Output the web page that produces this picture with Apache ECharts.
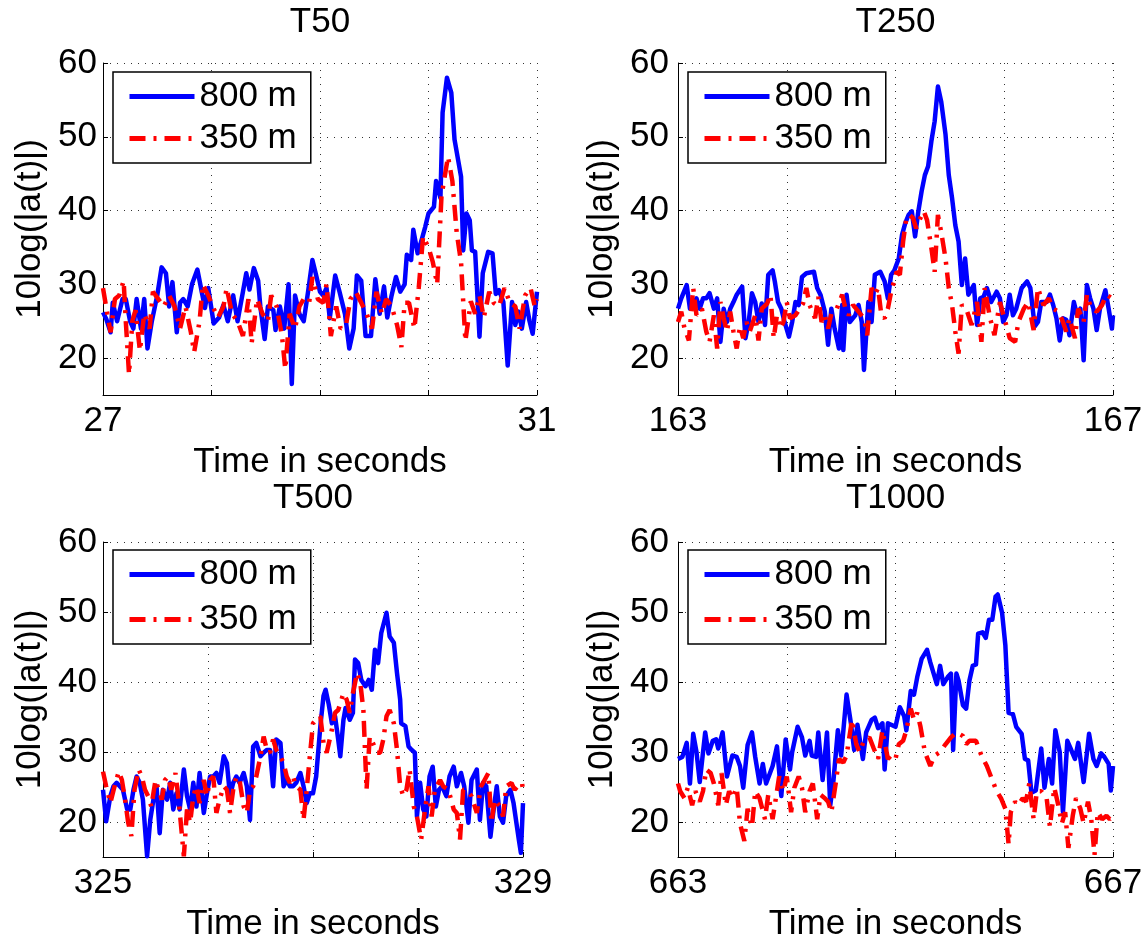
<!DOCTYPE html>
<html>
<head>
<meta charset="utf-8">
<script src="https://cdn.jsdelivr.net/npm/echarts@6/dist/echarts.min.js"></script>
<style>
html, body { margin: 0; padding: 0; background: #fff; }
#chart { width: 1147px; height: 943px; }
</style>
</head>
<body>
<div id="chart"></div>
<script>
// panel titles, start time of each 4 s window
const panelTitles = ['T50', 'T250', 'T500', 'T1000'];
const panelStarts = [27, 163, 325, 663];
const yTicks = [20, 30, 40, 50, 60];
const seriesNames = ['800 m', '350 m'];

// [seconds after window start, 10log(|a(t)|)]
const t50_800 = [[0.00,26.2],[0.03,25.3],[0.07,23.5],[0.09,27.5],[0.13,25],[0.18,28],[0.21,28],[0.25,25],[0.28,24],[0.31,28],[0.35,24],[0.38,28],[0.41,21.3],[0.45,25],[0.50,28.5],[0.54,32.3],[0.58,31.5],[0.61,27],[0.64,30.3],[0.68,23.5],[0.71,27.5],[0.74,28],[0.78,27],[0.82,30],[0.87,32],[0.91,29],[0.94,26.8],[0.97,29.5],[1.02,24.7],[1.07,25.5],[1.11,27.2],[1.15,25],[1.20,28.5],[1.24,25],[1.29,29],[1.32,31.5],[1.35,29.3],[1.39,32.2],[1.43,30.5],[1.45,27],[1.49,22.6],[1.52,27],[1.57,26.5],[1.59,23.8],[1.63,27],[1.67,24],[1.71,30],[1.74,16.5],[1.77,28.5],[1.81,26],[1.85,25],[1.89,29],[1.93,33.3],[1.96,31.5],[2.00,29],[2.03,28.5],[2.06,29.5],[2.09,25.4],[2.14,31.2],[2.18,29],[2.23,26],[2.27,21.3],[2.31,24],[2.34,31.2],[2.38,30.5],[2.42,23],[2.47,23],[2.51,30.7],[2.55,26],[2.59,29.7],[2.62,25.5],[2.66,28.5],[2.70,31],[2.74,29],[2.78,30],[2.80,34],[2.84,33.3],[2.86,37.4],[2.90,34.2],[2.94,36.2],[2.97,37.8],[3.00,39.6],[3.05,40.5],[3.07,44],[3.11,41.7],[3.13,53.3],[3.17,58],[3.21,56],[3.24,49.6],[3.30,44.6],[3.32,34.6],[3.35,39.6],[3.38,38.7],[3.40,34.6],[3.43,34.4],[3.47,22.9],[3.50,31.5],[3.55,34.4],[3.59,34.2],[3.62,28.7],[3.65,29.2],[3.69,27.6],[3.73,19],[3.77,27.6],[3.80,24.5],[3.83,26.3],[3.86,24],[3.90,27.6],[3.93,25.1],[3.96,23.3],[4.00,29]];
const t50_350 = [[0.00,29.5],[0.04,26],[0.07,23.5],[0.11,28],[0.15,28.5],[0.19,30.5],[0.21,25],[0.24,17.8],[0.27,25],[0.30,26.5],[0.34,21],[0.38,26],[0.43,24],[0.46,29],[0.51,28],[0.56,27],[0.61,28.5],[0.66,27],[0.71,24],[0.76,27],[0.81,23.5],[0.84,20.8],[0.89,25],[0.92,30],[0.97,28.5],[1.01,27],[1.06,25.5],[1.11,27],[1.14,29.5],[1.19,26],[1.24,25],[1.29,23],[1.34,28],[1.37,22],[1.42,28],[1.47,26],[1.52,25],[1.55,28.5],[1.60,27],[1.65,23],[1.68,18.5],[1.72,26],[1.77,24],[1.81,27],[1.85,28],[1.90,27.5],[1.93,31],[1.98,28],[2.03,27.5],[2.06,30],[2.10,23],[2.15,27],[2.19,24],[2.24,24.5],[2.28,28],[2.33,29],[2.38,27.5],[2.43,26],[2.48,24],[2.52,29],[2.57,26],[2.61,28],[2.66,27],[2.71,24.5],[2.75,21.5],[2.78,27.5],[2.82,27.5],[2.87,24],[2.91,29.5],[2.95,36.5],[3.00,35],[3.04,33],[3.08,30],[3.12,42],[3.18,47.3],[3.22,44],[3.26,37],[3.30,33],[3.34,22.3],[3.39,27.7],[3.43,26],[3.47,28.5],[3.51,25.5],[3.56,29],[3.60,27.5],[3.65,27],[3.70,29.5],[3.75,27.5],[3.80,27],[3.84,24],[3.89,28.5],[3.94,29.5],[3.98,27],[4.00,28]];
const t250_800 = [[0.00,26.7],[0.03,28.1],[0.08,29.9],[0.11,26.7],[0.14,27.4],[0.17,28.1],[0.20,26.7],[0.23,28.1],[0.26,28.1],[0.29,28.8],[0.33,26.7],[0.36,28.1],[0.39,22.2],[0.42,26.7],[0.45,24.9],[0.48,26.7],[0.51,27.6],[0.54,28.6],[0.59,29.7],[0.62,22.7],[0.65,24.9],[0.68,28.8],[0.71,27.6],[0.74,24.9],[0.77,27.4],[0.80,24.5],[0.83,31.3],[0.87,31.9],[0.89,30.4],[0.92,27.6],[0.95,26.7],[0.98,24.9],[1.02,22.9],[1.05,24.9],[1.08,27.6],[1.11,27.2],[1.14,31],[1.18,31.5],[1.25,31.7],[1.28,29.5],[1.31,28.6],[1.35,26.3],[1.38,21.8],[1.41,26.7],[1.44,24],[1.48,21.3],[1.51,27.2],[1.52,21.1],[1.55,28.6],[1.58,24.9],[1.63,25.8],[1.66,27.2],[1.69,24.9],[1.71,18.4],[1.75,27.6],[1.78,24.9],[1.81,31.3],[1.86,31.7],[1.90,30.4],[1.93,28.1],[1.96,31.3],[1.99,31.9],[2.03,33.5],[2.06,36.7],[2.09,38.3],[2.12,39.4],[2.15,39.9],[2.18,36.5],[2.21,39.9],[2.24,42.6],[2.27,44.8],[2.30,46],[2.33,49.4],[2.36,52.1],[2.39,56.8],[2.42,54.8],[2.46,50.3],[2.49,44.8],[2.52,41.7],[2.55,38],[2.58,35.8],[2.61,29.9],[2.64,33.5],[2.67,28.6],[2.72,29.9],[2.75,24.5],[2.78,28.1],[2.81,28.3],[2.84,29.5],[2.88,27.6],[2.93,29],[2.96,28.1],[2.99,24.9],[3.02,25.8],[3.05,28.6],[3.08,25.8],[3.11,26.7],[3.16,29.5],[3.21,30.4],[3.24,29.5],[3.28,24.3],[3.31,24.9],[3.34,27.6],[3.39,27.6],[3.42,28.6],[3.45,27.2],[3.48,25.4],[3.51,22.4],[3.54,25.4],[3.57,25.2],[3.60,23.1],[3.64,27.6],[3.67,25.8],[3.70,26.7],[3.73,19.7],[3.76,29.9],[3.79,28.1],[3.82,26.7],[3.85,23.8],[3.88,26.7],[3.93,29.2],[3.96,26.7],[3.99,24],[4.00,25.8]];
const t250_350 = [[0.00,24.9],[0.03,26.3],[0.06,24],[0.10,22.4],[0.14,29.5],[0.17,25.8],[0.22,26.7],[0.26,23.6],[0.29,22.2],[0.33,25.8],[0.36,21.3],[0.39,27.6],[0.42,25.4],[0.45,23.6],[0.48,26.3],[0.51,23.6],[0.54,21.3],[0.57,24.3],[0.60,22.7],[0.63,24.9],[0.66,23.6],[0.71,25.8],[0.74,22.4],[0.77,26.7],[0.82,27.4],[0.85,28.6],[0.88,22.7],[0.91,25.8],[0.94,24],[0.97,24.9],[1.00,27.6],[1.03,25.4],[1.08,25.8],[1.12,26.7],[1.15,27.4],[1.18,29.5],[1.21,27.2],[1.26,25.4],[1.29,28.3],[1.32,24.9],[1.35,25.8],[1.38,24],[1.41,26],[1.46,26.7],[1.51,28.6],[1.54,26.7],[1.57,25.8],[1.61,27.2],[1.66,26.3],[1.71,25.4],[1.74,23.1],[1.78,29.5],[1.81,28.6],[1.84,29.5],[1.87,25.8],[1.90,25.4],[1.93,26.7],[1.96,29],[2.01,31.7],[2.04,31.3],[2.07,35.8],[2.10,39],[2.13,39.4],[2.16,39],[2.19,37.6],[2.23,39],[2.26,39.9],[2.29,38.7],[2.33,34.9],[2.36,31.7],[2.39,39.4],[2.42,37.1],[2.46,33.5],[2.49,29.5],[2.52,27.2],[2.55,23.6],[2.58,20.6],[2.61,27.2],[2.65,26.7],[2.70,24.5],[2.75,27.6],[2.79,22.2],[2.82,29.5],[2.87,25.4],[2.91,23.1],[2.96,27.6],[3.01,24.9],[3.05,22.7],[3.10,22.2],[3.13,24.9],[3.18,26.7],[3.22,27.6],[3.27,23.8],[3.31,29.5],[3.36,27.2],[3.41,28.1],[3.45,26.7],[3.50,26.3],[3.54,24.9],[3.57,23.6],[3.60,25.4],[3.65,22.7],[3.68,26.7],[3.73,24.9],[3.76,28.6],[3.80,26.7],[3.85,26.3],[3.90,27.2],[3.94,28.6],[3.99,28.1],[4.00,27.6]];
const t500_800 = [[0.00,24.6],[0.03,20.1],[0.07,23.7],[0.10,25.1],[0.13,25.6],[0.16,25.1],[0.19,24.6],[0.23,21.8],[0.26,21.8],[0.29,24.6],[0.32,26.5],[0.35,25.6],[0.38,23.2],[0.42,15.1],[0.45,20.3],[0.48,23.2],[0.51,25.1],[0.54,18.4],[0.57,24.6],[0.61,23.2],[0.64,25.6],[0.67,21.8],[0.70,24.1],[0.73,21.8],[0.77,27.5],[0.80,23.7],[0.83,21.8],[0.86,25.6],[0.89,22.2],[0.92,27],[0.96,21.3],[0.99,24.1],[1.02,26.5],[1.05,26.5],[1.08,27],[1.11,25.6],[1.15,29.4],[1.18,28.4],[1.21,23.7],[1.24,25.6],[1.27,26.5],[1.30,25.6],[1.34,27],[1.37,25.1],[1.40,20.3],[1.43,30.8],[1.46,31.3],[1.50,29.4],[1.53,29.9],[1.56,30.3],[1.59,30.3],[1.62,25.1],[1.65,31.8],[1.69,31.3],[1.72,25.1],[1.75,26],[1.78,25.1],[1.81,25.1],[1.84,25.6],[1.88,27],[1.91,25.1],[1.94,22.7],[1.97,24.1],[2.00,24.1],[2.03,26.5],[2.07,33.7],[2.10,38],[2.12,38.9],[2.15,36.8],[2.18,34.1],[2.21,35.1],[2.24,31.8],[2.26,29.4],[2.29,34.6],[2.31,36.3],[2.35,34.6],[2.38,35.6],[2.40,43.2],[2.43,42.7],[2.46,40.3],[2.50,39.4],[2.53,40.3],[2.56,38.9],[2.59,44.6],[2.62,42.7],[2.65,47],[2.70,49.9],[2.73,46.5],[2.77,45.6],[2.80,41.3],[2.83,37.5],[2.84,34.1],[2.88,33.7],[2.91,30.8],[2.94,30.3],[2.97,29.9],[2.99,20.8],[3.02,25.6],[3.05,21.8],[3.08,20.8],[3.11,26.5],[3.14,27.9],[3.17,22.2],[3.20,24.6],[3.23,25.1],[3.27,23.7],[3.30,26.5],[3.34,27.9],[3.37,25.1],[3.41,27],[3.44,25.1],[3.48,19.9],[3.51,26],[3.56,27.5],[3.59,20.3],[3.62,25.6],[3.65,25.1],[3.69,17.9],[3.72,21.8],[3.75,25.1],[3.78,20.8],[3.81,19.9],[3.84,23.7],[3.88,24.6],[3.91,22.7],[3.96,17.5],[3.98,15.6],[4.00,22.7]];
const t500_350 = [[0.00,27.2],[0.03,25.1],[0.07,22.7],[0.11,25.1],[0.15,27.2],[0.18,26],[0.21,23.2],[0.24,19.9],[0.27,18],[0.30,24.6],[0.34,27.5],[0.37,26.5],[0.40,24.6],[0.43,23.7],[0.46,22.2],[0.50,26],[0.53,24.6],[0.56,23.2],[0.59,26],[0.62,26.5],[0.65,24.6],[0.69,27],[0.72,23.2],[0.75,18.4],[0.77,15.1],[0.80,21.8],[0.83,19.9],[0.86,23.7],[0.89,25.1],[0.92,22.7],[0.96,26],[0.99,23.7],[1.02,26],[1.05,26.5],[1.08,21.3],[1.11,23.2],[1.15,25.1],[1.18,24.6],[1.21,21.3],[1.24,24.6],[1.27,26.5],[1.30,26],[1.34,22.2],[1.37,21.3],[1.40,24.6],[1.43,25.1],[1.46,26.5],[1.50,29.4],[1.53,32.2],[1.56,30.3],[1.59,29.9],[1.62,31.8],[1.65,30.3],[1.69,29.4],[1.72,28.4],[1.75,26.5],[1.78,25.6],[1.81,26.5],[1.84,25.1],[1.88,24.6],[1.91,20.3],[1.94,24.6],[1.97,29.4],[2.00,34.1],[2.03,34.6],[2.07,35.1],[2.10,31.3],[2.13,29.9],[2.18,33.2],[2.21,35.6],[2.24,36],[2.29,38.4],[2.32,37.5],[2.35,35.6],[2.38,38.4],[2.42,41.3],[2.45,39.9],[2.48,36],[2.51,24.6],[2.54,32.2],[2.57,31.3],[2.61,29.9],[2.64,29.9],[2.67,31.8],[2.70,35.1],[2.73,36],[2.77,34.1],[2.80,30.3],[2.83,25.1],[2.86,23.7],[2.89,24.6],[2.92,27.5],[2.96,22.2],[2.99,20.8],[3.03,17.5],[3.07,22.2],[3.10,25.1],[3.13,20.8],[3.16,24.6],[3.21,26],[3.24,25.1],[3.29,24.6],[3.34,21.8],[3.37,21.3],[3.40,17.5],[3.43,24.6],[3.46,24.6],[3.51,23.7],[3.56,21.3],[3.60,25.1],[3.62,25.6],[3.67,27],[3.70,19.9],[3.73,23.2],[3.78,22.2],[3.81,20.8],[3.84,25.1],[3.89,25.6],[3.92,24.6],[3.95,25.1],[3.99,25.6],[4.00,24.6]];
const t1000_800 = [[0.00,29],[0.04,29.3],[0.08,31.3],[0.11,25.5],[0.14,32.6],[0.17,30],[0.20,25.7],[0.25,32.8],[0.28,29.8],[0.32,31.6],[0.35,31.8],[0.37,30.5],[0.41,32.8],[0.45,26.5],[0.50,29.5],[0.54,29.3],[0.57,28],[0.60,24.9],[0.64,31],[0.68,32.8],[0.71,29.3],[0.75,25.5],[0.78,28.3],[0.81,25.5],[0.87,28],[0.91,30.8],[0.95,23.7],[0.99,31.8],[1.03,27.5],[1.05,30],[1.10,33.6],[1.14,32.1],[1.17,29.5],[1.21,31.6],[1.23,29.5],[1.27,29.3],[1.29,32.8],[1.33,26],[1.37,32.8],[1.40,22.4],[1.43,26],[1.47,33.1],[1.50,29.5],[1.55,38.2],[1.59,34.1],[1.62,30.3],[1.65,33.9],[1.70,29],[1.73,32.8],[1.78,34.6],[1.81,34.9],[1.84,33.4],[1.88,34.1],[1.90,27.5],[1.93,34.1],[1.96,33.9],[2.00,33.6],[2.04,36.4],[2.08,35.1],[2.10,33.1],[2.14,38.7],[2.17,38.2],[2.20,40.7],[2.24,43.3],[2.29,44.6],[2.32,42.8],[2.38,39.7],[2.41,42.3],[2.44,39.7],[2.48,40.7],[2.51,41.2],[2.53,30.3],[2.56,41.2],[2.58,40.2],[2.62,36.7],[2.65,36.2],[2.68,40.2],[2.71,42.3],[2.74,42.5],[2.76,46.9],[2.80,47.1],[2.83,46.3],[2.86,48.9],[2.89,48.9],[2.92,52.2],[2.94,52.5],[2.98,49.9],[3.01,45.3],[3.04,35.6],[3.08,35.4],[3.11,33.6],[3.16,32.6],[3.19,29],[3.22,28.8],[3.25,24.2],[3.29,24.5],[3.34,30.5],[3.37,24.9],[3.41,29],[3.44,25.5],[3.47,33.1],[3.51,30],[3.54,21.4],[3.58,31.6],[3.61,30.5],[3.65,29],[3.68,31.3],[3.73,25.7],[3.78,32.6],[3.82,29],[3.85,28],[3.89,29.8],[3.92,29.3],[3.96,28.3],[3.98,24.5],[4.00,28]];
const t1000_350 = [[0.00,25.5],[0.02,24.4],[0.06,23.4],[0.09,24.9],[0.13,22.4],[0.16,24.4],[0.20,22.9],[0.23,24.4],[0.26,27.5],[0.30,27],[0.33,25.5],[0.37,22.4],[0.40,27],[0.44,22.4],[0.47,24.4],[0.50,23.4],[0.54,24.9],[0.57,19.8],[0.61,17.3],[0.64,21.9],[0.68,19.3],[0.71,24.4],[0.75,23.4],[0.80,20.4],[0.83,23.9],[0.87,20.4],[0.90,23.4],[0.93,26.5],[0.97,24.4],[1.00,26.5],[1.04,21.4],[1.07,24.9],[1.11,26.5],[1.14,24.9],[1.17,21.4],[1.21,24.4],[1.24,25.5],[1.28,20.4],[1.31,23.9],[1.35,23.4],[1.38,22.9],[1.41,21.4],[1.45,25.5],[1.48,29],[1.52,28.5],[1.55,29.5],[1.60,34.6],[1.64,31.1],[1.67,30],[1.71,31.6],[1.76,32.1],[1.80,30.5],[1.84,29],[1.88,33.1],[1.93,29],[1.96,29.5],[2.00,29],[2.03,31.1],[2.07,31.6],[2.10,33.1],[2.14,36.2],[2.17,34.6],[2.20,35.6],[2.23,33.6],[2.27,30],[2.32,28],[2.36,29.5],[2.41,30],[2.46,31.1],[2.51,32.1],[2.56,32.8],[2.62,32.3],[2.65,31.1],[2.68,31.6],[2.74,31.6],[2.79,29.5],[2.84,28],[2.89,26],[2.93,24.4],[2.97,23.4],[3.01,21.9],[3.04,16.8],[3.06,21.4],[3.10,22.9],[3.13,22.4],[3.17,23.4],[3.20,22.9],[3.23,25.5],[3.27,20.4],[3.30,24.4],[3.34,24.4],[3.39,23.4],[3.42,19.3],[3.46,24.9],[3.49,22.9],[3.53,19.8],[3.56,21.4],[3.59,16.3],[3.63,20.9],[3.66,23.4],[3.70,21.9],[3.73,19.8],[3.77,22.9],[3.80,20.4],[3.83,15.3],[3.86,21.4],[3.90,20.4],[3.94,20.9],[3.97,20.4],[4.00,20.9]];

const panelData = [
    [t50_800, t50_350],
    [t250_800, t250_350],
    [t500_800, t500_350],
    [t1000_800, t1000_350]
];

const FONT = '"Liberation Sans", Arial, Helvetica, sans-serif';

// layout of the 2x2 panels (px)
const boxes = [
    { left: 103, top: 63, width: 434, height: 332, titleTop: 5,   legTop: 72,  legGap: 7,  yGap: 6, yNameGap: 55 },
    { left: 678, top: 63, width: 435, height: 332, titleTop: 5,   legTop: 72,  legGap: 7,  yGap: 9, yNameGap: 58 },
    { left: 103, top: 542, width: 420, height: 317, titleTop: 481, legTop: 550, legGap: 10, yGap: 6, yNameGap: 55 },
    { left: 678, top: 542, width: 435, height: 317, titleTop: 481, legTop: 550, legGap: 10, yGap: 9, yNameGap: 58 }
];

const txt = { color: '#000', fontSize: 35, fontFamily: FONT };
const gridLine = { show: true, lineStyle: { color: '#333', width: 1, type: [1, 6] } };
const redDash = [16, 8, 3, 8];

let grid = [], xAxis = [], yAxis = [], title = [], legend = [], series = [];

boxes.forEach((b, i) => {
    const t0 = panelStarts[i];
    grid.push({ left: b.left, top: b.top, width: b.width, height: b.height });
    title.push({
        text: panelTitles[i], left: b.left + b.width / 2, top: b.titleTop,
        textAlign: 'center', padding: 0,
        textStyle: Object.assign({ fontWeight: 'normal' }, txt)
    });
    xAxis.push({
        type: 'value', gridIndex: i, min: t0, max: t0 + 4, interval: 1,
        axisLine: { show: true, onZero: false, lineStyle: { color: '#000', width: 1 } },
        axisTick: { show: true, inside: true, length: 5, lineStyle: { color: '#000' } },
        axisLabel: Object.assign({ margin: 9, formatter: v => (v === t0 || v === t0 + 4) ? String(v) : '' }, txt),
        splitLine: gridLine,
        name: 'Time in seconds', nameLocation: 'middle', nameGap: 50, nameTextStyle: txt
    });
    yAxis.push({
        type: 'value', gridIndex: i, min: 15, max: 60,
        axisLine: { show: true, onZero: false, lineStyle: { color: '#000', width: 1 } },
        axisTick: { show: true, inside: true, length: 5, customValues: yTicks, lineStyle: { color: '#000' } },
        axisLabel: Object.assign({ margin: b.yGap, customValues: yTicks }, txt),
        splitLine: gridLine,
        name: '10log(|a(t)|)', nameLocation: 'middle', nameGap: b.yNameGap, nameTextStyle: txt
    });
    legend.push({
        orient: 'vertical', left: b.left + 10, top: b.legTop,
        data: seriesNames, selectedMode: false,
        itemWidth: 65, itemHeight: 14, itemGap: b.legGap,
        padding: [7, 14, 7, 14],
        backgroundColor: '#fff', borderColor: '#000', borderWidth: 1.5, borderRadius: 0,
        itemStyle: { opacity: 0 },
        lineStyle: { width: 5 },
        textStyle: txt
    });
    const [near, far] = panelData[i];
    series.push({
        type: 'line', name: seriesNames[0], xAxisIndex: i, yAxisIndex: i,
        symbol: 'none', data: near.map(p => [t0 + p[0], p[1]]),
        itemStyle: { color: '#0000ff' },
        lineStyle: { color: '#0000ff', width: 4.5, join: 'round' }
    });
    series.push({
        type: 'line', name: seriesNames[1], xAxisIndex: i, yAxisIndex: i,
        symbol: 'none', data: far.map(p => [t0 + p[0], p[1]]),
        itemStyle: { color: '#ff0000' },
        lineStyle: { color: '#ff0000', width: 4.5, type: redDash }
    });
});

const chart = echarts.init(document.getElementById('chart'));
chart.setOption({
    animation: false,
    backgroundColor: '#fff',
    textStyle: { fontFamily: FONT },
    title, grid, xAxis, yAxis, legend, series
});
</script>
</body>
</html>
